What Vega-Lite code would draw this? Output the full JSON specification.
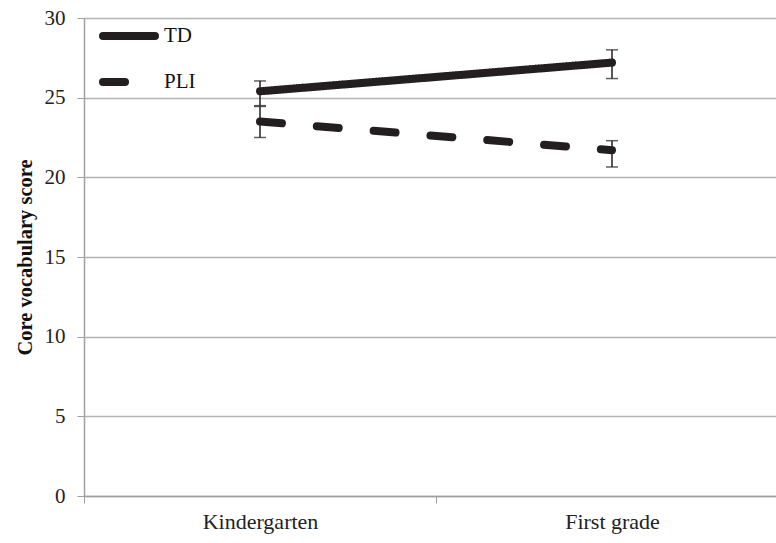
{
  "$schema": "https://vega.github.io/schema/vega-lite/v6.json",
  "width": 692,
  "height": 478,
  "autosize": "none",
  "padding": {"left": 84, "top": 18, "right": 0, "bottom": 47},
  "background": "white",
  "config": {
    "view": {"stroke": null},
    "font": "Liberation Serif",
    "axis": {"labelFont": "Liberation Serif", "titleFont": "Liberation Serif", "labelColor": "#222", "titleColor": "#111"},
    "legend": {"labelFont": "Liberation Serif"}
  },
  "data": {
    "values": [
      {"grade": "Kindergarten", "group": "TD", "score": 25.4, "lo": 24.5, "hi": 26.05},
      {"grade": "First grade", "group": "TD", "score": 27.2, "lo": 26.2, "hi": 28.0},
      {"grade": "Kindergarten", "group": "PLI", "score": 23.5, "lo": 22.5, "hi": 24.45},
      {"grade": "First grade", "group": "PLI", "score": 21.7, "lo": 20.65, "hi": 22.3}
    ]
  },
  "encoding": {
    "x": {
      "field": "grade",
      "type": "nominal",
      "sort": ["Kindergarten", "First grade"],
      "scale": {"range": [0, 704], "paddingInner": 0, "paddingOuter": 0},
      "axis": {
        "title": null,
        "labelAngle": 0,
        "labelFontSize": 22,
        "labelPadding": 8,
        "tickBand": "extent",
        "tickSize": 7,
        "tickColor": "#a0a0a0",
        "domainColor": "#a0a0a0",
        "domainWidth": 1.5,
        "grid": false
      }
    }
  },
  "layer": [
    {
      "mark": {"type": "rule", "color": "#231f20", "strokeWidth": 1.5},
      "encoding": {
        "y": {"field": "lo", "type": "quantitative", "scale": {"domain": [0, 30]}},
        "y2": {"field": "hi"}
      }
    },
    {
      "mark": {"type": "tick", "color": "#231f20", "thickness": 1.5, "size": 12},
      "encoding": {
        "y": {"field": "lo", "type": "quantitative"}
      }
    },
    {
      "mark": {"type": "tick", "color": "#231f20", "thickness": 1.5, "size": 12},
      "encoding": {
        "y": {"field": "hi", "type": "quantitative"}
      }
    },
    {
      "mark": {"type": "line", "color": "#231f20", "strokeWidth": 8, "strokeCap": "round"},
      "encoding": {
        "y": {
          "field": "score",
          "type": "quantitative",
          "scale": {"domain": [0, 30]},
          "axis": {
            "title": "Core vocabulary score",
            "titleFontSize": 20.5,
            "titleFontWeight": "bold",
            "titlePadding": 9,
            "values": [0, 5, 10, 15, 20, 25, 30],
            "labelFontSize": 21,
            "labelPadding": 12,
            "tickSize": 7,
            "tickColor": "#a0a0a0",
            "domainColor": "#a0a0a0",
            "domainWidth": 1.5,
            "grid": true,
            "gridColor": "#b4b4b4",
            "gridWidth": 1.5
          }
        },
        "strokeDash": {
          "field": "group",
          "type": "nominal",
          "sort": ["TD", "PLI"],
          "scale": {"domain": ["TD", "PLI"], "range": [[1, 0], [22, 35]]},
          "legend": {
            "title": null,
            "orient": "none",
            "legendX": 15,
            "legendY": -12,
            "symbolType": "stroke",
            "symbolSize": 2704,
            "symbolStrokeWidth": 8,
            "symbolStrokeColor": "#231f20",
            "labelFontSize": 21,
            "labelColor": "#111",
            "labelOffset": 5,
            "rowPadding": -33,
            "encode": {
              "symbols": {"update": {
                "strokeCap": {"value": "round"},
                "strokeDash": {"signal": "datum.value === 'PLI' ? [24, 80] : [1, 0]"}
              }}
            }
          }
        }
      }
    }
  ]
}
